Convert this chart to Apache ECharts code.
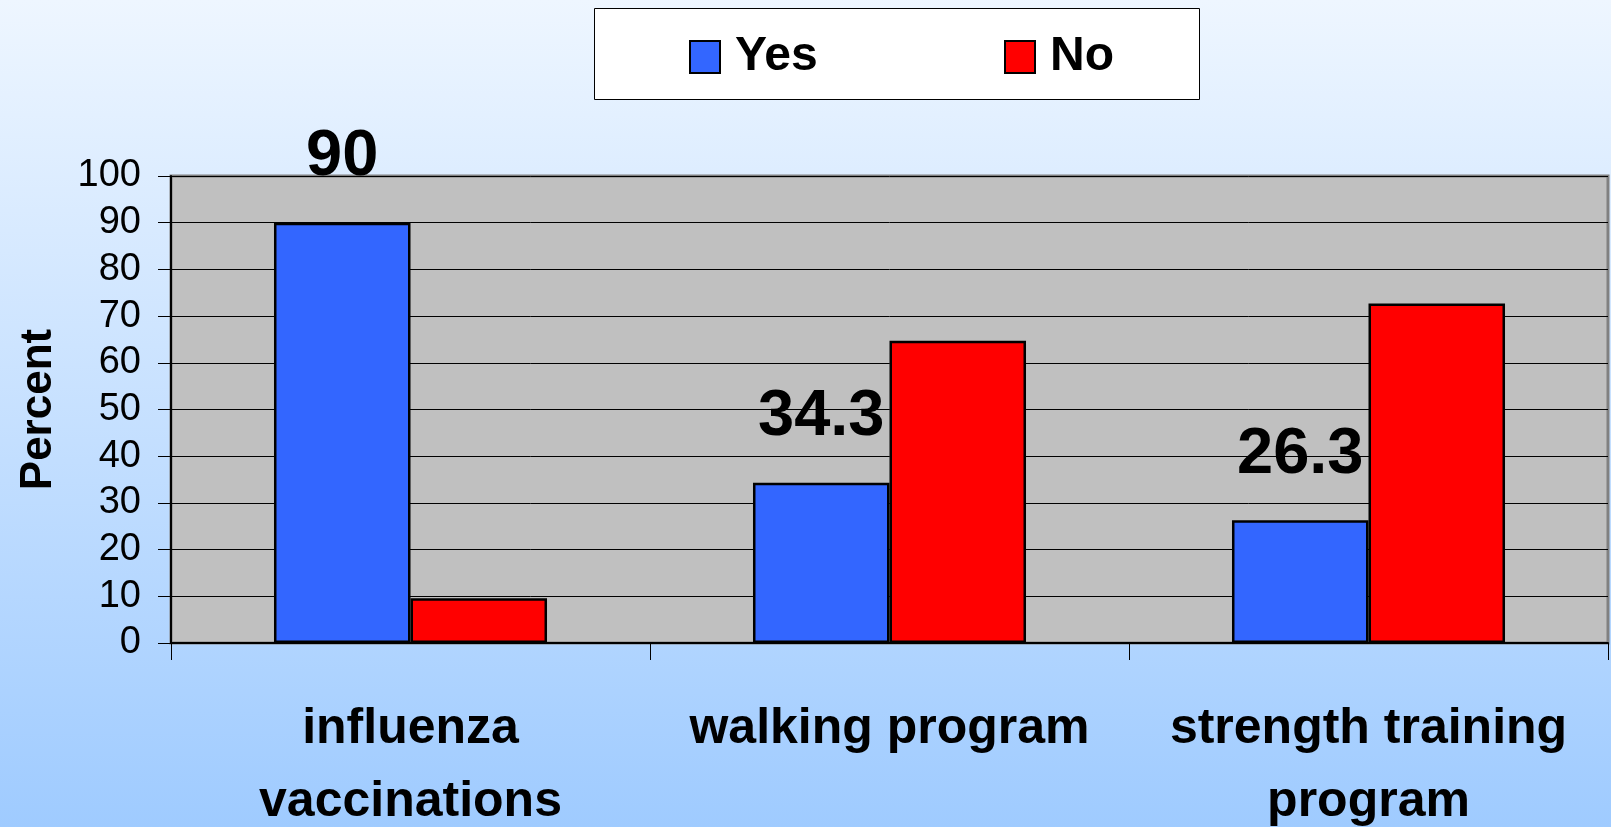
<!DOCTYPE html>
<html>
<head>
<meta charset="utf-8">
<title>Percent</title>
<script src="https://cdn.jsdelivr.net/npm/echarts@6/dist/echarts.min.js"></script>
<style>
	html,body{margin:0;padding:0;}
	body{
		width:1611px;height:827px;
		background:linear-gradient(to bottom,#EEF6FF,#9FCBFF);
	}
	#chart{width:1611px;height:827px;}
</style>
</head>
<body>
<div id="chart"></div>
<script>
	var categories = ['influenza\nvaccinations', 'walking program', 'strength training\nprogram'];
	var yesValues = [90, 34.3, 26.3];
	var noValues = [9.6, 64.7, 72.7];
	var yTicks = {min: 0, max: 100, interval: 10};

	var font = "'Liberation Sans', Arial, sans-serif";

	function legendItem(name, left) {
		return {
			data: [name],
			left: left,
			top: 33,
			padding: 0,
			icon: 'rect',
			itemWidth: 30,
			itemHeight: 32,
			itemStyle: {borderColor: '#000', borderWidth: 2},
			textStyle: {fontFamily: font, fontWeight: 'bold', fontSize: 48, lineHeight: 32, color: '#000', padding: [0, 0, 0, 10]}
		};
	}

	var myChart = echarts.init(document.getElementById('chart'));
	var option = {
		animation: false,
		graphic: [{
			type: 'rect',
			shape: {x: 594.5, y: 8.5, width: 605, height: 91},
			style: {fill: '#fff', stroke: '#000', lineWidth: 1},
			z: -1
		}],
		legend: [legendItem('Yes', 689), legendItem('No', 1004)],
		grid: {
			left: 171,
			top: 176,
			width: 1437,
			height: 467,
			outerBoundsMode: 'none',
			show: true,
			backgroundColor: '#C0C0C0',
			borderColor: '#808080',
			borderWidth: 3
		},
		xAxis: {
			type: 'category',
			data: categories,
			axisLine: {lineStyle: {color: '#000', width: 2}},
			axisTick: {show: true, interval: 0, length: 17, lineStyle: {color: '#000', width: 1}},
			axisLabel: {
				interval: 0,
				margin: 50,
				fontFamily: font,
				fontWeight: 'bold',
				fontSize: 50,
				lineHeight: 73,
				color: '#000'
			}
		},
		yAxis: {
			type: 'value',
			min: yTicks.min,
			max: yTicks.max,
			interval: yTicks.interval,
			name: 'Percent',
			nameLocation: 'middle',
			nameRotate: 90,
			nameGap: 110,
			nameTextStyle: {fontFamily: font, fontWeight: 'bold', fontSize: 44, color: '#000'},
			axisLine: {show: true, lineStyle: {color: '#000', width: 2}},
			axisTick: {show: true, length: 13, lineStyle: {color: '#000', width: 1}},
			axisLabel: {margin: 30, fontFamily: font, fontSize: 38, color: '#000'},
			splitLine: {lineStyle: {color: '#000', width: 1}}
		},
		series: [{
			name: 'Yes',
			type: 'bar',
			data: yesValues,
			barGap: '0%',
			barCategoryGap: '43%',
			itemStyle: {color: '#3366FF', borderColor: '#000', borderWidth: 2.5},
			label: {
				show: true,
				position: 'top',
				distance: 33,
				fontFamily: font,
				fontWeight: 'bold',
				fontSize: 65,
				lineHeight: 65,
				color: '#000'
			}
		}, {
			name: 'No',
			type: 'bar',
			data: noValues,
			barGap: '0%',
			barCategoryGap: '43%',
			itemStyle: {color: '#FF0000', borderColor: '#000', borderWidth: 2.5}
		}]
	};
	myChart.setOption(option);
</script>
</body>
</html>
